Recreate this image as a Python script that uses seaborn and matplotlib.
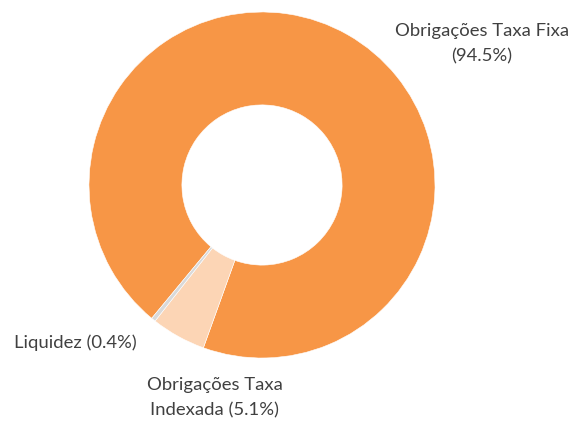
import matplotlib
matplotlib.use("Agg")
import matplotlib.pyplot as plt
import seaborn as sns

labels = ["Obrigações Taxa Fixa", "Obrigações Taxa\nIndexada", "Liquidez"]
shares = [94.5, 5.1, 0.4]
colors = ["#F79646", "#FCD5B5", "#D9D9D9"]
# where each label sits (pie radius = 1)
label_pos = [(1.272, 0.815), (-0.272, -1.228), (-1.081, -0.913)]

sns.set_theme(style="white")
plt.rcParams["font.family"] = ["Lato", "DejaVu Sans"]

fig = plt.figure(figsize=(5.71, 4.23), dpi=100)
ax = fig.add_axes([0, 0, 1, 1])

ax.pie(shares, colors=colors, startangle=230.4, counterclock=False,
       radius=1.0, wedgeprops=dict(width=0.537, edgecolor="white", linewidth=0.4))

for lab, val, (x, y) in zip(labels, shares, label_pos):
    if "\n" in lab or lab == "Liquidez":
        txt = f"{lab} ({val}%)"
    else:
        txt = f"{lab}\n({val}%)"
    ax.text(x, y, txt, ha="center", va="center", fontsize=13.3,
            color="#404040", linespacing=1.7)

ax.set_xlim(-262 / 173, (571 - 262) / 173)
ax.set_ylim(-(423 - 185) / 173, 185 / 173)
ax.axis("off")

fig.savefig("out.png", dpi=100, facecolor="white")
